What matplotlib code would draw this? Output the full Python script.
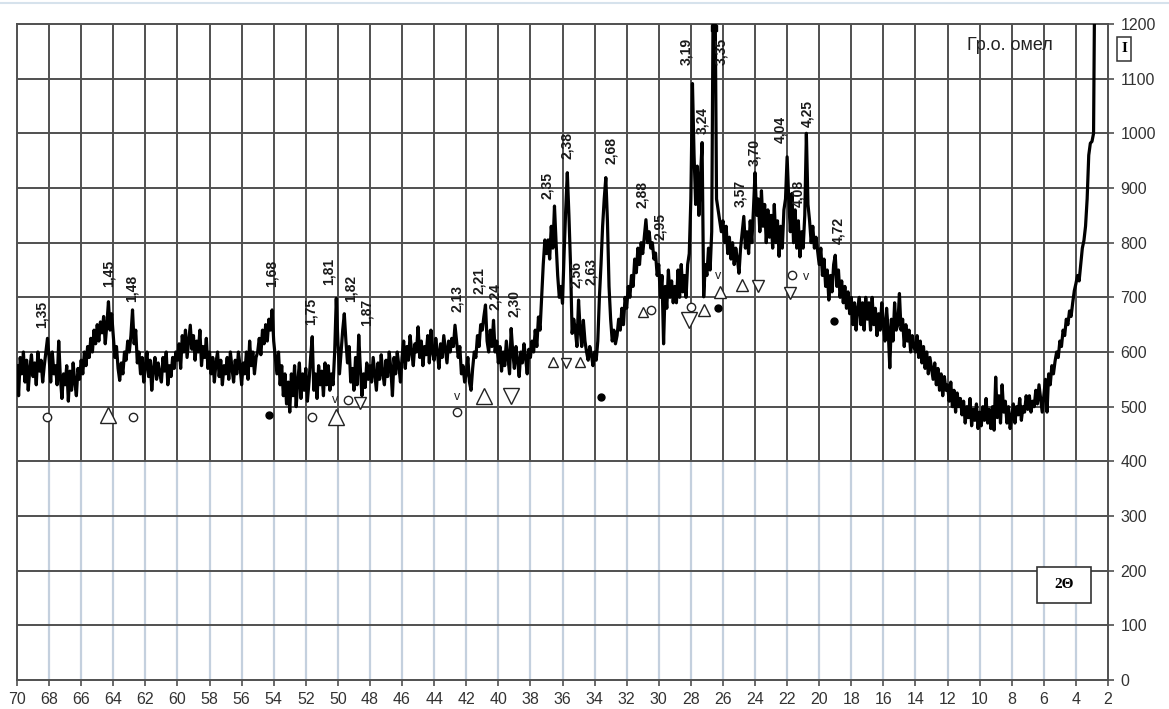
import numpy as np
import matplotlib
matplotlib.use('Agg')
import matplotlib.pyplot as plt
from matplotlib.patches import Rectangle
from matplotlib.lines import Line2D

# ---- data: intensity, scan from 70 to 2.8 deg, step 0.1 ----
intensity = [
    575, 520, 590, 560, 600, 545, 585, 530, 570, 595,   # 70.0 - 69.1
    555, 580, 540, 600, 565, 585, 545, 575, 600, 625,   # 69
    590, 545, 600, 560, 575, 540, 620, 555, 515, 560,   # 68
    540, 575, 510, 565, 530, 580, 545, 520, 570, 550,   # 67
    585, 560, 600, 575, 610, 590, 625, 600, 640, 615,   # 66
    650, 620, 655, 635, 665, 615, 650, 692, 640, 670,   # 65
    630, 590, 610, 570, 548, 580, 560, 600, 585, 620,   # 64
    600, 630, 677, 615, 640, 580, 600, 560, 590, 545,   # 63
    575, 600, 555, 585, 530, 570, 590, 550, 580, 560,   # 62
    545, 590, 565, 600, 540, 575, 555, 590, 570, 600,   # 61
    585, 615, 570, 630, 600, 640, 590, 620, 649, 605,   # 60
    630, 585, 620, 600, 640, 575, 610, 590, 625, 570,   # 59
    600, 560, 590, 545, 580, 600, 555, 585, 540, 575,   # 58
    560, 590, 550, 600, 570, 545, 585, 560, 600, 575,   # 57
    540, 580, 560, 600, 550, 620, 575, 600, 560, 590,   # 56
    600, 625, 595, 640, 615, 650, 620, 660, 640, 677,   # 55
    620, 590, 560, 600, 540, 575, 520, 560, 505, 545,   # 54
    490, 560, 520, 575, 500, 545, 580, 515, 560, 530,   # 53
    570, 510, 545, 590, 628, 530, 560, 515, 575, 540,   # 52
    565, 520, 580, 540, 575, 530, 560, 540, 600, 698,   # 51
    620, 560, 600, 640, 670, 620, 580, 610, 545, 570,   # 50
    530, 590, 540, 631, 570, 520, 560, 535, 580, 550,   # 49
    575, 545, 590, 560, 530, 580, 550, 595, 560, 540,   # 48
    585, 555, 600, 570, 520, 590, 560, 600, 575, 545,   # 47
    590, 620, 570, 610, 585, 630, 600, 575, 615, 600,   # 46
    646, 590, 620, 575, 610, 595, 630, 580, 640, 600,   # 45
    585, 625, 600, 570, 615, 590, 630, 605, 580, 620,   # 44
    600, 625, 610, 649, 620, 590, 610, 560, 575, 545,   # 43
    560, 590, 545, 530, 570, 600, 590, 630, 610, 650,   # 42
    640, 665, 686, 620, 600, 640, 610, 658, 600, 620,   # 41
    580, 610, 565, 600, 575, 620, 590, 560, 643, 600,   # 40
    570, 610, 585, 555, 600, 580, 615, 590, 560, 605,   # 39
    590, 620, 600, 640, 610, 664, 640, 700, 760, 805,   # 38
    780, 805, 770, 830, 790, 867, 800, 740, 700, 720,   # 37
    689, 780, 860, 928, 850, 760, 634, 660, 640, 610,   # 36
    695, 640, 610, 658, 620, 600, 585, 610, 595, 575,   # 35
    600, 585, 620, 700, 760, 830, 880, 919, 840, 720,   # 34
    660, 620, 640, 615, 630, 660, 640, 680, 650, 700,   # 33
    680, 720, 700, 740, 720, 770, 745, 790, 760, 800,   # 32
    780, 810, 842, 800, 820, 790, 800, 770, 781, 740,   # 31
    760, 700, 740, 615, 720, 680, 750, 700, 730, 690,   # 30
    720, 690, 750, 700, 760, 710, 740, 700, 760, 780,   # 29
    880, 1091, 960, 870, 940, 850, 920, 983, 701, 760,  # 28
    740, 790, 750, 820, 1300, 1300, 880, 860, 840, 820, # 27
    840, 800, 830, 780, 810, 770, 800, 760, 790, 770,   # 26
    744, 790, 820, 848, 790, 820, 780, 840, 800, 860,   # 25
    928, 850, 880, 820, 895, 830, 870, 800, 860, 810,   # 24
    850, 790, 870, 800, 840, 775, 830, 790, 860, 880,   # 23
    957, 880, 820, 890, 800, 860, 790, 840, 774, 820,   # 22
    790, 850, 1000, 870, 840, 800, 830, 790, 810, 785,  # 21
    760, 790, 740, 770, 720, 750, 695, 740, 710, 760,   # 20
    777, 720, 750, 700, 730, 690, 720, 680, 710, 670,   # 19
    700, 650, 690, 640, 680, 700, 650, 690, 640, 700,   # 18
    660, 690, 640, 700, 650, 680, 630, 670, 640, 690,   # 17
    650, 620, 680, 640, 571, 660, 620, 690, 640, 650,   # 16
    707, 640, 660, 610, 650, 620, 640, 600, 630, 610,   # 15
    600, 630, 590, 620, 580, 610, 570, 600, 560, 590,   # 14
    570, 550, 580, 540, 570, 530, 560, 520, 555, 530,   # 13
    540, 510, 545, 500, 530, 490, 525, 500, 515, 485,   # 12
    510, 470, 500, 480, 515, 465, 495, 475, 505, 460,   # 11
    490, 465, 500, 475, 515, 470, 495, 460, 500, 457,   # 10
    554, 480, 520, 470, 540, 490, 510, 470, 500, 460,   # 9
    480, 505, 470, 500, 485, 515, 475, 500, 490, 520,   # 8
    495, 520, 490, 510, 500, 530, 505, 540, 515, 490,   # 7
    520, 550, 490, 560, 540, 575, 560, 583, 600, 590,   # 6
    620, 610, 640, 630, 660, 650, 675, 665, 690, 712,   # 5
    725, 740, 730, 760, 790, 804, 830, 880, 960, 982,   # 4
    985, 1000, 1400,                                    # 3.0 - 2.8
]
two_theta = np.round(70.0 - 0.1 * np.arange(len(intensity)), 1)

# d-spacing labels at the peaks
peak_labels = ["1,35", "1,45", "1,48", "1,68", "1,75", "1,81", "1,82", "1,87",
               "2,13", "2,21", "2,24", "2,30", "2,35", "2,38", "2,56", "2,63",
               "2,68", "2,88", "2,95", "3,19", "3,24", "3,35", "3,57", "3,70",
               "4,04", "4,08", "4,25", "4,72"]
label_x = [68.46, 64.3, 62.85, 54.1, 51.7, 50.58, 49.2, 48.2,
           42.6, 41.2, 40.2, 39.04, 36.96, 35.7, 35.15, 34.25,
           33.0, 31.03, 29.93, 28.27, 27.3, 26.1, 24.9, 24.07,
           22.4, 21.3, 20.74, 18.83]
label_y = [669, 744, 716, 744, 674, 747, 716, 673,
           698, 730, 702, 689, 904, 977, 741, 747,
           968, 889, 830, 1149, 1024, 1149, 890, 965,
           1007, 890, 1037, 822]

# phase symbols
circ_x = [68.1, 62.8, 51.6, 49.4, 42.6, 30.5, 28.0, 21.7]
circ_y = [482, 482, 482, 512, 490, 677, 683, 740]
up_big_x = [64.3, 50.1, 40.9]
up_big_y = [485, 482, 520]
up_mid_x = [27.2, 26.2, 24.8]
up_mid_y = [677, 710, 722]
up_small_x = [36.6, 34.9, 31.0]
up_small_y = [582, 582, 674]
down_big_x = [39.2, 28.1]
down_big_y = [520, 658]
down_mid_x = [48.6, 23.8, 21.8]
down_mid_y = [506, 720, 708]
down_small_x = [35.8]
down_small_y = [580]
dot_x = [54.3, 33.6, 26.3, 19.1]
dot_y = [485, 517, 680, 656]
v_x = [50.2, 42.6, 26.3, 20.8]
v_y = [512, 517, 739, 737]

x_ticks = list(range(70, 1, -2))
y_ticks = list(range(0, 1201, 100))

# ---- figure ----
W, H = 1169, 709
fig = plt.figure(figsize=(W / 100, H / 100), dpi=100)
plt.rcParams['font.family'] = ['Liberation Sans', 'DejaVu Sans']
ax = fig.add_axes([17 / W, 29 / H, 1091 / W, 656 / H])

grid_dark = '#505050'
grid_light = '#c4d0de'
for xv in x_ticks[1:-1]:
    ax.plot([xv, xv], [0, 400], color=grid_light, lw=1.6, zorder=1)
    ax.plot([xv, xv], [400, 1200], color=grid_dark, lw=1.4, zorder=1)
for yv in y_ticks[1:-1]:
    ax.axhline(yv, color=grid_dark, lw=1.4, zorder=1)

ax.plot(two_theta, intensity, color='black', lw=2.3, zorder=3)

mk = dict(linestyle='none', zorder=4)
ax.plot(circ_x, circ_y, marker='o', ms=6, mfc='white', mec='#222222', mew=1.0, **mk)
ax.plot(up_big_x, up_big_y, marker='^', ms=11, mfc='white', mec='#222222', mew=1.0, **mk)
ax.plot(up_mid_x, up_mid_y, marker='^', ms=9, mfc='white', mec='#222222', mew=1.0, **mk)
ax.plot(up_small_x, up_small_y, marker='^', ms=7, mfc='white', mec='#222222', mew=1.0, **mk)
ax.plot(down_big_x, down_big_y, marker='v', ms=11, mfc='white', mec='#222222', mew=1.0, **mk)
ax.plot(down_mid_x, down_mid_y, marker='v', ms=9, mfc='white', mec='#222222', mew=1.0, **mk)
ax.plot(down_small_x, down_small_y, marker='v', ms=7, mfc='white', mec='#222222', mew=1.0, **mk)
ax.plot(dot_x, dot_y, marker='o', ms=5, color='black', **mk)
ax.plot([26.55], [1193], marker='s', ms=4, color='black', **mk)
for xv, yv in zip(v_x, v_y):
    ax.text(xv, yv, 'v', fontsize=9, ha='center', va='center', color='#222222', zorder=4)

for txt, xv, yv in zip(peak_labels, label_x, label_y):
    ax.text(xv, yv, txt, rotation=90, fontsize=10, fontweight='bold',
            ha='center', va='center', color='#1a1a1a', zorder=5)

ax.text(8.12, 1161, 'Гр.о. омел', fontsize=13, ha='center', va='center', color='#222222')

# 2Theta box
ax.add_patch(Rectangle((3.06, 141), 3.37, 66, fill=True, facecolor='white',
                       edgecolor='#333333', lw=1.2, zorder=5))
ax.text(4.75, 174, '2Θ', fontsize=11, fontweight='bold', family='Liberation Serif',
        ha='center', va='center', zorder=6)

ax.set_xlim(70, 2)
ax.set_ylim(0, 1200)
ax.set_xticks(x_ticks)
ax.set_yticks(y_ticks)
ax.yaxis.tick_right()
ax.tick_params(axis='x', direction='out', length=4, width=1.2, colors=grid_dark,
               labelcolor='#333333', labelsize=11.5, pad=5)
ax.tick_params(axis='y', direction='out', length=4, width=1.2, colors=grid_dark,
               labelcolor='#333333', labelsize=11.5, pad=5)
for lab in ax.get_yticklabels():
    lab.set_horizontalalignment('left')
for sp in ax.spines.values():
    sp.set_color(grid_dark)
    sp.set_linewidth(1.4)

# "I" box right of the axis
fig.add_artist(Rectangle((1117 / W, 1 - 61 / H), 14 / W, 24 / H, transform=fig.transFigure,
                         fill=False, edgecolor='#333333', lw=1.1))
fig.text(1124 / W, 1 - 49 / H, 'I', fontsize=11, fontweight='bold', family='Liberation Serif',
         ha='center', va='center')

# thin frame line at the top of the picture
fig.add_artist(Line2D([0, 1], [1 - 3 / H, 1 - 3 / H], transform=fig.transFigure,
                      color='#d6e2ec', lw=1.5))

fig.savefig('out.png', dpi=100)
